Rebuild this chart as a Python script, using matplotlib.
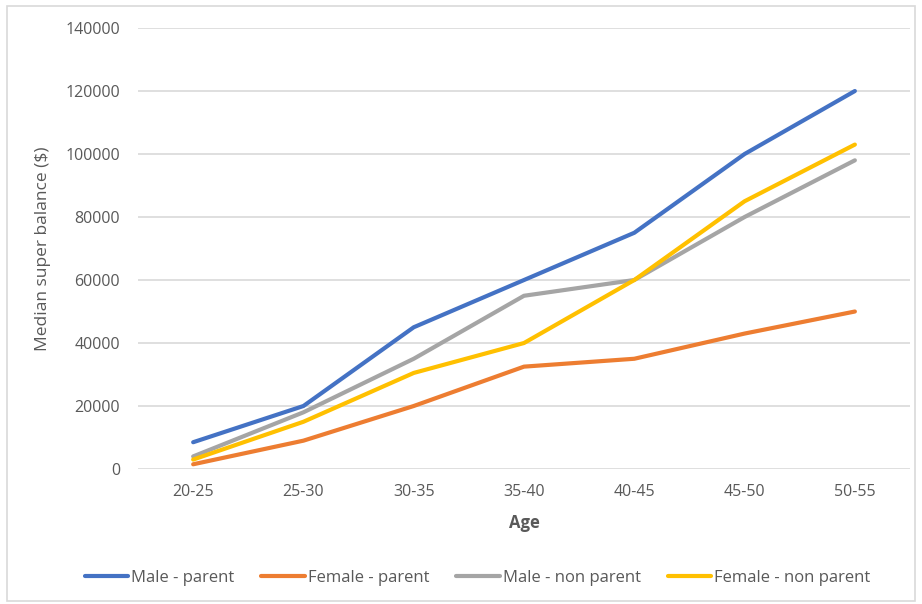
import matplotlib.pyplot as plt
from matplotlib.patches import Rectangle

# --- data ---
age_groups = ['20-25', '25-30', '30-35', '35-40', '40-45', '45-50', '50-55']
male_parent = [8500, 20000, 45000, 60000, 75000, 100000, 120000]
female_parent = [1500, 9000, 20000, 32500, 35000, 43000, 50000]
male_non_parent = [4000, 18000, 35000, 55000, 60000, 80000, 98000]
female_non_parent = [3000, 15000, 30500, 40000, 60000, 85000, 103000]

series = [
    ('Male - parent', male_parent, '#4472C4'),
    ('Female - parent', female_parent, '#ED7D31'),
    ('Male - non parent', male_non_parent, '#A5A5A5'),
    ('Female - non parent', female_non_parent, '#FFC000'),
]

plt.rcParams['font.family'] = ['Open Sans', 'DejaVu Sans']
TEXT = '#595959'

fig = plt.figure(figsize=(9.22, 6.04), dpi=100)
ax = fig.add_axes([0.1497, 0.2235, 0.8373, 0.7301])

x = list(range(len(age_groups)))
for name, vals, col in series:
    ax.plot(x, vals, color=col, lw=3.0, label=name,
            solid_capstyle='round', solid_joinstyle='round')

ax.set_xlim(-0.5, len(age_groups) - 0.5)
ax.set_ylim(0, 140000)
ax.set_yticks(range(0, 140001, 20000))
ax.set_yticklabels([str(v) for v in range(0, 140001, 20000)])
ax.set_xticks(x)
ax.set_xticklabels(age_groups)

ax.grid(axis='y', color='#D9D9D9', lw=1.2)
ax.set_axisbelow(True)
for s in ax.spines.values():
    s.set_visible(False)
ax.tick_params(length=0, colors=TEXT, labelsize=11.5)
ax.tick_params(axis='y', pad=13)
ax.tick_params(axis='x', pad=11)

ax.set_xlabel('Age', fontsize=12, fontweight='bold', color=TEXT, labelpad=10)
ax.set_ylabel('Median super balance ($)', fontsize=12.5, color=TEXT, labelpad=10)

fig.legend(loc='center', bbox_to_anchor=(0.518, 0.043), ncol=4, frameon=False,
           fontsize=12, handlelength=2.6, handletextpad=0.2, columnspacing=1.6,
           labelcolor=TEXT)

# light chart-area border
fig.patches.append(Rectangle((0.008, 0.005), 0.984, 0.985, transform=fig.transFigure,
                             fill=False, edgecolor='#D9D9D9', lw=1.2))

fig.savefig('out.png', dpi=100)
